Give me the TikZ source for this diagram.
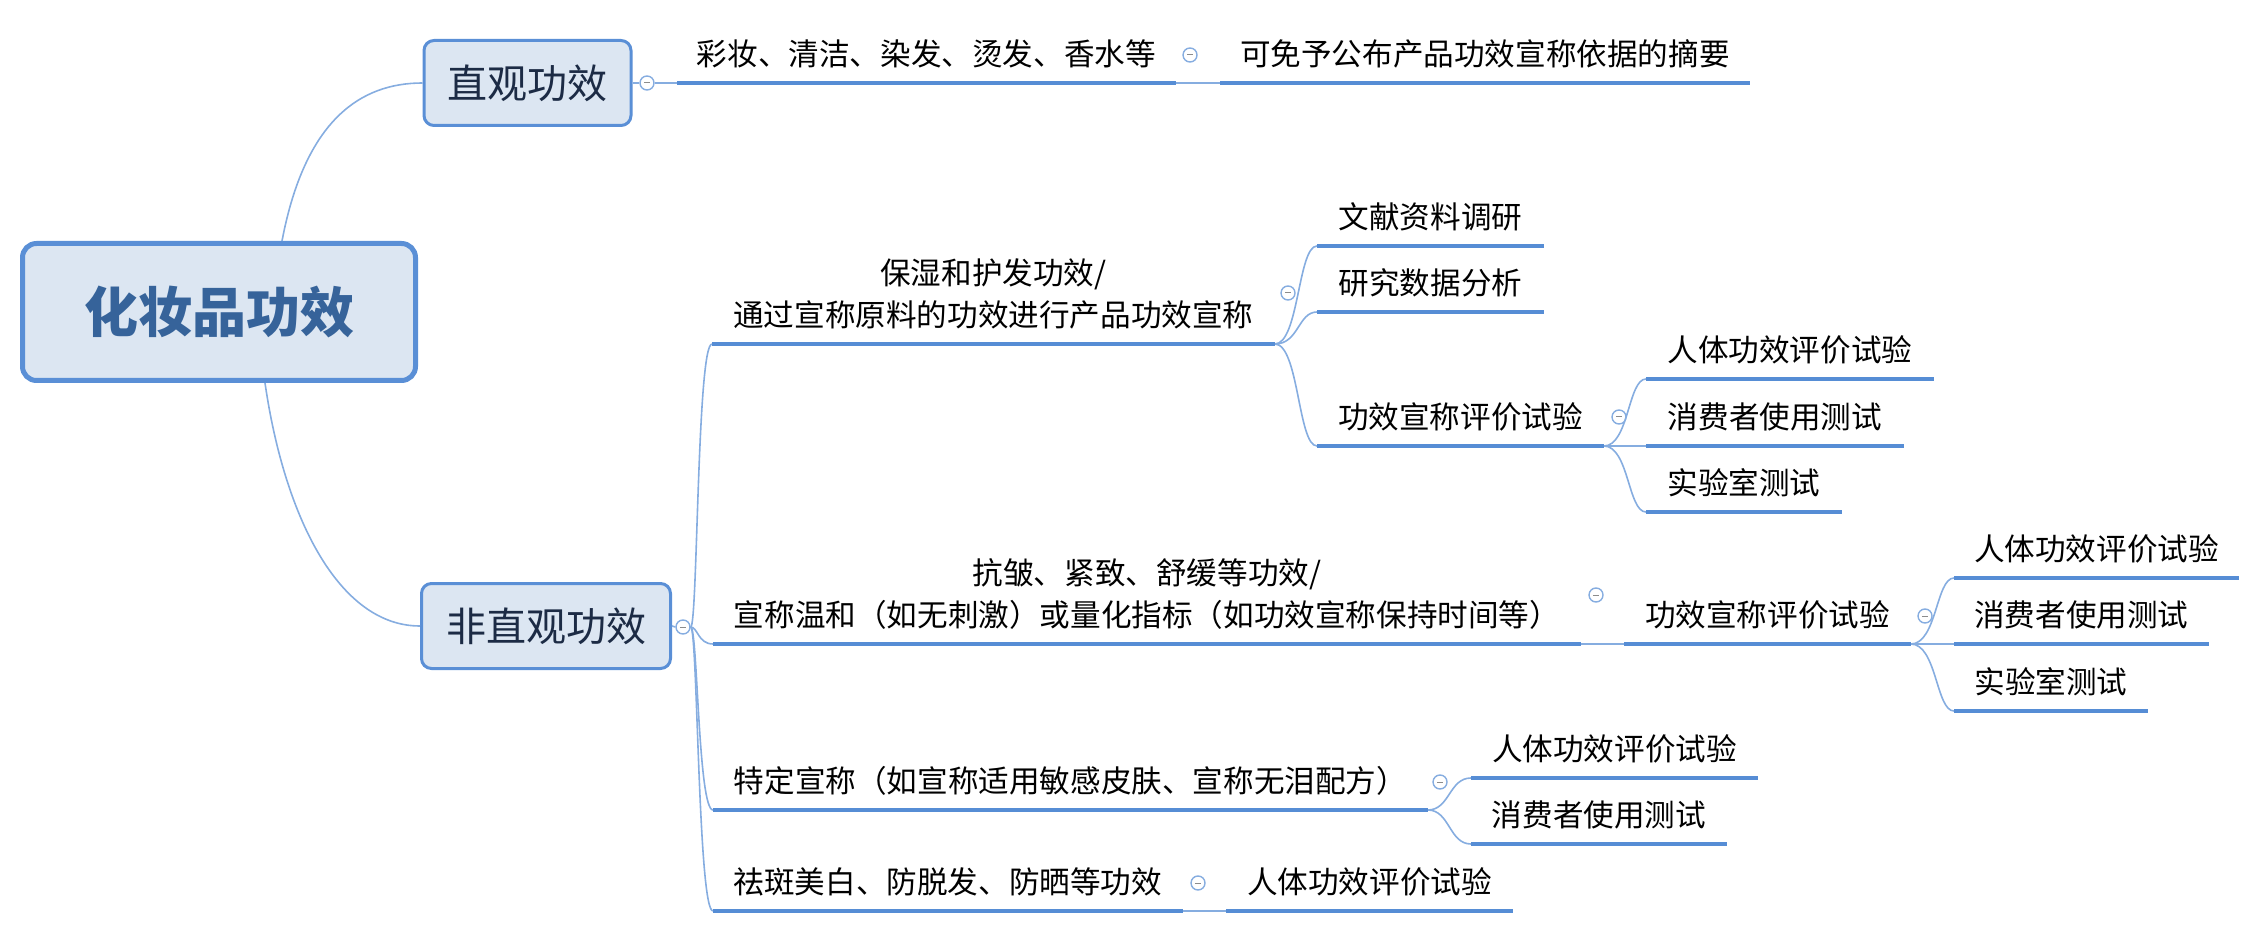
\documentclass[tikz,border=0pt]{standalone}
\usepackage{fontspec}
\setmainfont{Noto Sans CJK SC}
\definecolor{ulblue}{HTML}{568DD5}
\definecolor{connblue}{HTML}{86ADE0}
\definecolor{boxfill}{HTML}{DCE6F2}
\definecolor{boxdraw}{HTML}{5A8FD6}
\definecolor{roottext}{HTML}{36639A}
\definecolor{boxtext}{HTML}{1C2B45}
\newcommand\twoline[2]{\begin{tabular}[b]{@{}c@{}}#1\\#2\end{tabular}}
\begin{document}
\begin{tikzpicture}[x=0.5pt,y=-0.5pt,
  leaf/.style={font=\fontsize{15.3pt}{21pt}\selectfont, inner xsep=0pt, inner ysep=8.5pt, text depth=0pt, anchor=south west},
  uline/.style={draw=ulblue, line width=2pt},
  conn/.style={draw=connblue, line width=0.8pt},
  topbox/.style={draw=boxdraw, fill=boxfill, line width=1.5pt, rounded corners=5pt, text=boxtext, font=\fontsize{20pt}{24pt}\selectfont, minimum height=42.5pt, inner sep=0pt},
  rootbox/.style={draw=boxdraw, fill=boxfill, line width=2.5pt, rounded corners=7pt, text=roottext, font=\fontsize{27pt}{32pt}\selectfont\bfseries, minimum width=196.5pt, minimum height=68.5pt, inner sep=0pt},
  foldmark/.style={circle, draw=connblue, fill=white, line width=0.7pt, minimum size=7pt, inner sep=0pt,
    path picture={\draw[black!45, line width=0.5pt] ([xshift=-1.6pt]path picture bounding box.center) -- ([xshift=1.6pt]path picture bounding box.center);}}
]
\path[use as bounding box] (0,0) rectangle (2265,935);

% main boxes
\node[rootbox] (root) at (219,312) {化妆品功效};
\node[topbox, minimum width=103.5pt] (zg) at (527.5,83) {直观功效};
\node[topbox, minimum width=124.5pt] (fz) at (546,626) {非直观功效};

% leaf topics
\node[leaf, minimum width=249pt] (n11) at (677,83) {彩妆、清洁、染发、烫发、香水等};
\node[leaf, minimum width=264.5pt] (n111) at (1220,83) {可免予公布产品功效宣称依据的摘要};
\node[leaf, minimum width=281pt] (n21) at (712,344) {\twoline{保湿和护发功效/}{通过宣称原料的功效进行产品功效宣称}};
\node[leaf, minimum width=113pt] (n211) at (1317,246) {文献资料调研};
\node[leaf, minimum width=113pt] (n212) at (1317,312) {研究数据分析};
\node[leaf, minimum width=143pt] (n213) at (1317,446) {功效宣称评价试验};
\node[leaf, minimum width=143.5pt] (n2131) at (1646,379) {人体功效评价试验};
\node[leaf, minimum width=128.5pt] (n2132) at (1646,446) {消费者使用测试};
\node[leaf, minimum width=97.5pt] (n2133) at (1646,512) {实验室测试};
\node[leaf, minimum width=433.5pt] (n22) at (713,644) {\twoline{抗皱、紧致、舒缓等功效/}{宣称温和（如无刺激）或量化指标（如功效宣称保持时间等）}};
\node[leaf, minimum width=143pt] (n221) at (1624,644) {功效宣称评价试验};
\node[leaf, minimum width=142pt] (n2211) at (1954,578) {人体功效评价试验};
\node[leaf, minimum width=127pt] (n2212) at (1954,644) {消费者使用测试};
\node[leaf, minimum width=96.5pt] (n2213) at (1954,711) {实验室测试};
\node[leaf, minimum width=357pt] (n23) at (713,810) {特定宣称（如宣称适用敏感皮肤、宣称无泪配方）};
\node[leaf, minimum width=143pt] (n231) at (1471,778) {人体功效评价试验};
\node[leaf, minimum width=127.5pt] (n232) at (1471,844) {消费者使用测试};
\node[leaf, minimum width=234.5pt] (n24) at (713,911) {祛斑美白、防脱发、防晒等功效};
\node[leaf, minimum width=143pt] (n241) at (1226,911) {人体功效评价试验};

% fold marks
\node[foldmark] (c1) at (647,83) {};
\node[foldmark] (c2) at (1190,55) {};
\node[foldmark] (c3) at (683,627) {};
\node[foldmark] (c4) at (1288,293) {};
\node[foldmark] (c5) at (1619,417) {};
\node[foldmark] (c6) at (1596,595) {};
\node[foldmark] (c7) at (1925,616) {};
\node[foldmark] (c8) at (1440,782) {};
\node[foldmark] (c9) at (1198,883) {};

% connectors
\draw[conn] ([xshift=31.5pt]root.north) .. controls +(23,-121) and +(-62,0) .. (zg.west);
\draw[conn] ([xshift=23pt]root.south) .. controls +(20,137) and +(-80,0) .. (fz.west);
\draw[conn] (zg.east) -- (c1.west);
\draw[conn] (c1.east) -- (n11.south west);
\draw[conn] (n11.south east) -- (n111.south west);
\draw[conn] (fz.east) -- (c3.west);
\foreach \t in {n21,n22,n23,n24}
  \draw[conn] (c3.east) .. controls +(7,0) and +(-15,0) .. (\t.south west);
\foreach \t in {n211,n212,n213}
  \draw[conn] (n21.south east) .. controls +(24,0) and +(-19,0) .. (\t.south west);
\foreach \t in {n2131,n2132,n2133}
  \draw[conn] (n213.south east) .. controls +(25,0) and +(-18,0) .. (\t.south west);
\draw[conn] (n22.south east) -- (n221.south west);
\foreach \t in {n2211,n2212,n2213}
  \draw[conn] (n221.south east) .. controls +(26,0) and +(-18,0) .. (\t.south west);
\foreach \t in {n231,n232}
  \draw[conn] (n23.south east) .. controls +(22,0) and +(-22,0) .. (\t.south west);
\draw[conn] (n24.south east) -- (n241.south west);

% underlines
\foreach \t in {n11,n111,n21,n211,n212,n213,n2131,n2132,n2133,n22,n221,n2211,n2212,n2213,n23,n231,n232,n24,n241}
  \draw[uline] (\t.south west) -- (\t.south east);
\end{tikzpicture}
\end{document}
